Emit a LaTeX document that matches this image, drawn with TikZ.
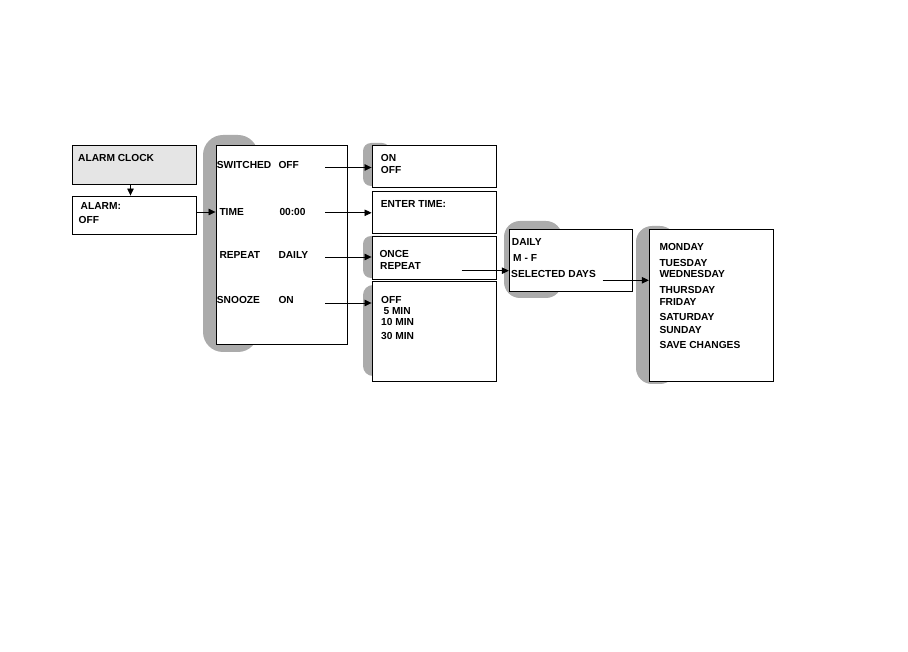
\documentclass[tikz,border=0pt]{standalone}
\usepackage{fontspec}
\setmainfont{Liberation Sans}
\usetikzlibrary{arrows.meta}

\begin{document}
\begin{tikzpicture}[x=1pt,y=-1pt,
    box/.style={draw,line width=0.9pt,inner sep=0pt},
    shade/.style={fill=black!33},
    lbl/.style={anchor=base west,inner sep=0pt,font=\bfseries\fontsize{10.2}{12}\selectfont},
    arr/.style={line width=0.7pt,-{Triangle[length=7pt,width=6.5pt]}}]
    \useasboundingbox (0,0) rectangle (908,652);

    \fill[shade,rounded corners=20pt] (203,135) rectangle (258,352);
    \fill[shade,rounded corners=8pt] (363,143) rectangle (390,186);
    \fill[shade,rounded corners=8pt] (363,236) rectangle (390,278);
    \fill[shade,rounded corners=10pt] (363,285) rectangle (390,376);
    \fill[shade,rounded corners=16pt] (504,221) rectangle (562,298);
    \fill[shade,rounded corners=16pt] (636,226) rectangle (676,384);

    \node[box,fill=black!10,minimum width=124pt,minimum height=39pt] (clock) at (134,164.5) {};
    \node[box,fill=white,minimum width=124pt,minimum height=38pt] (alarm) at (134,215) {};
    \node[box,fill=white,minimum width=131pt,minimum height=199pt] (menu) at (281.5,244.5) {};
    \node[box,fill=white,minimum width=124.5pt,minimum height=42.7pt] (onoff) at (434.25,166.35) {};
    \node[box,fill=white,minimum width=124.5pt,minimum height=41.6pt] (settime) at (434.25,212.5) {};
    \node[box,fill=white,minimum width=124.5pt,minimum height=43pt] (once) at (434.25,257.5) {};
    \node[box,fill=white,minimum width=124.5pt,minimum height=100pt] (snooze) at (434.25,331.7) {};
    \node[box,fill=white,minimum width=123.4pt,minimum height=62pt] (repeat) at (571,260.3) {};
    \node[box,fill=white,minimum width=124pt,minimum height=152.4pt] (days) at (711.3,305.5) {};

    \node[lbl] (t-clock) at (78,162) {ALARM CLOCK};
    \node[lbl] (t-alarm) at (80.5,209.5) {ALARM:};
    \node[lbl] (t-alarmoff) at (78.5,223.3) {OFF};

    \node[lbl] (t-sw) at (216.7,168.3) {SWITCHED};
    \node[lbl] (t-swv) at (278.3,168.3) {OFF};
    \node[lbl] (t-time) at (219.3,215.7) {TIME};
    \node[lbl] (t-timev) at (279.3,215.7) {00:00};
    \node[lbl] (t-rep) at (219.3,259) {REPEAT};
    \node[lbl] (t-repv) at (278.3,259) {DAILY};
    \node[lbl] (t-sn) at (216.7,304) {SNOOZE};
    \node[lbl] (t-snv) at (278.3,304) {ON};

    \node[lbl] (t-on) at (380.7,162) {ON};
    \node[lbl] (t-off) at (380.7,173.3) {OFF};
    \node[lbl] (t-enter) at (380.7,207.3) {ENTER TIME:};
    \node[lbl] (t-once) at (379.3,257.3) {ONCE};
    \node[lbl] (t-again) at (380,269.3) {REPEAT};
    \node[lbl] (t-snoff) at (381,304) {OFF};
    \node[lbl] (t-five) at (383.3,315) {5 MIN};
    \node[lbl] (t-ten) at (381,325.7) {10 MIN};
    \node[lbl] (t-thirty) at (381,340) {30 MIN};

    \node[lbl] (t-daily) at (511.7,245.7) {DAILY};
    \node[lbl] (t-mf) at (513,261.7) {M - F};
    \node[lbl] (t-sel) at (511,277.7) {SELECTED DAYS};

    \node[lbl] (t-mon) at (659.3,250.2) {MONDAY};
    \node[lbl] (t-tue) at (659.3,266.2) {TUESDAY};
    \node[lbl] (t-wed) at (659.3,277.8) {WEDNESDAY};
    \node[lbl] (t-thu) at (659.3,293.5) {THURSDAY};
    \node[lbl] (t-fri) at (659.3,305.2) {FRIDAY};
    \node[lbl] (t-sat) at (659.3,320.2) {SATURDAY};
    \node[lbl] (t-sun) at (659.3,333.8) {SUNDAY};
    \node[lbl] (t-save) at (659.3,348.3) {SAVE CHANGES};

    \coordinate (c-sw) at (325,167.5);
    \coordinate (c-time) at (325,212.8);
    \coordinate (c-rep) at (325,257);
    \coordinate (c-sn) at (325,303);
    \coordinate (c-again) at (461.5,270.7);
    \coordinate (c-sel) at (602.7,280.3);

    \draw[arr] ([xshift=-3.5pt]clock.south) -- ([xshift=-3.5pt]alarm.north);
    \draw[arr] ([yshift=3pt]alarm.east) -- ([yshift=3pt]alarm.east -| menu.west);
    \draw[arr] (c-sw) -- (c-sw -| onoff.west);
    \draw[arr] (c-time) -- (c-time -| settime.west);
    \draw[arr] (c-rep) -- (c-rep -| once.west);
    \draw[arr] (c-sn) -- (c-sn -| snooze.west);
    \draw[arr] (c-again) -- (c-again -| repeat.west);
    \draw[arr] (c-sel) -- (c-sel -| days.west);
\end{tikzpicture}
\end{document}
